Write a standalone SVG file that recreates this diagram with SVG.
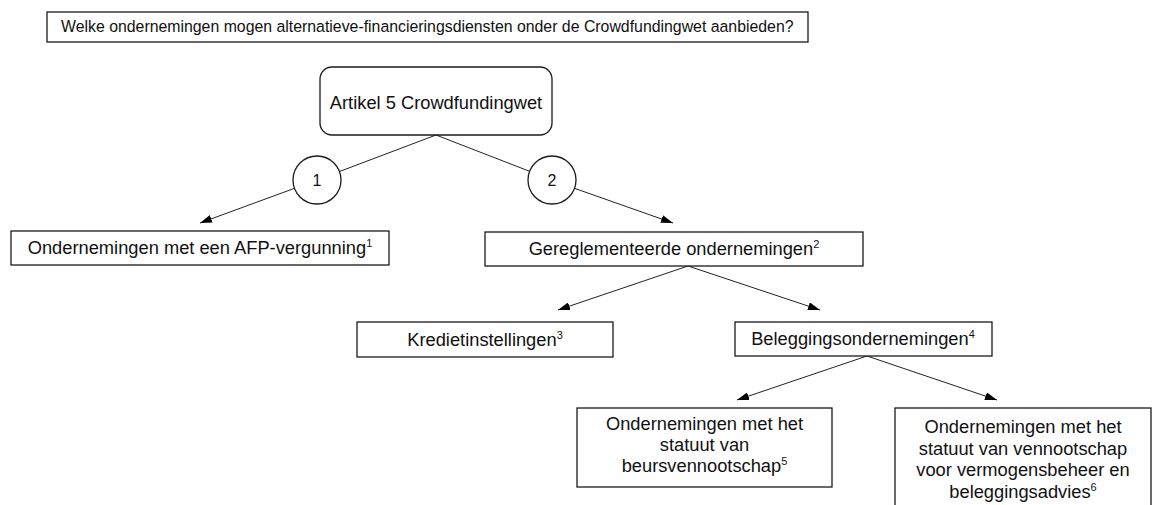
<svg xmlns="http://www.w3.org/2000/svg" width="1157" height="505" viewBox="0 0 1157 505">
  <style>
    .box { fill: #ffffff; stroke: #1a1a1a; stroke-width: 1.3; }
    .lbl { font-family: "Liberation Sans", Arial, sans-serif; font-size: 18.3px; fill: #111111; text-anchor: middle; }
    .sup { font-size: 11px; }
    .link { stroke: #222222; stroke-width: 1; fill: none; }
    .arrow { marker-end: url(#tip); }
  </style>
  <defs>
    <marker id="tip" viewBox="0 0 12 8" refX="12" refY="4" markerWidth="12" markerHeight="8" markerUnits="userSpaceOnUse" orient="auto">
      <path d="M0,0 L12,4 L0,8 z" fill="#000000"/>
    </marker>
  </defs>
  <rect width="1157" height="505" fill="#ffffff"/>

  <!-- connectors -->
  <g id="connectors">
    <line class="link" x1="436" y1="135" x2="317" y2="180"/>
    <line class="link" x1="436" y1="135" x2="552" y2="180"/>
    <line class="link arrow" x1="294" y1="188.5" x2="200" y2="223"/>
    <line class="link arrow" x1="575" y1="188.5" x2="673" y2="223"/>
    <line class="link arrow" x1="688" y1="266" x2="558" y2="310"/>
    <line class="link arrow" x1="688" y1="266" x2="820" y2="310"/>
    <line class="link arrow" x1="867" y1="356" x2="737" y2="400"/>
    <line class="link arrow" x1="867" y1="356" x2="997" y2="400"/>
  </g>

  <g id="question">
    <rect class="box" x="47" y="12" width="761" height="30"/>
    <text class="lbl" x="61" y="32" style="text-anchor:start;font-size:15.85px">Welke ondernemingen mogen alternatieve-financieringsdiensten onder de Crowdfundingwet aanbieden?</text>
  </g>

  <g id="artikel5">
    <rect class="box" x="320" y="67" width="232" height="68" rx="12" ry="12"/>
    <text class="lbl" x="436" y="109">Artikel 5 Crowdfundingwet</text>
  </g>

  <g id="route1">
    <circle class="box" cx="317" cy="180" r="24"/>
    <text class="lbl" x="317" y="186" style="font-size:16px">1</text>
  </g>

  <g id="route2">
    <circle class="box" cx="552" cy="180" r="24"/>
    <text class="lbl" x="552" y="186" style="font-size:16px">2</text>
  </g>

  <g id="afp">
    <rect class="box" x="11" y="231" width="378" height="34"/>
    <text class="lbl" x="200" y="254">Ondernemingen met een AFP-vergunning<tspan class="sup" dy="-7">1</tspan></text>
  </g>

  <g id="gereglementeerd">
    <rect class="box" x="485" y="232" width="378" height="34"/>
    <text class="lbl" x="674" y="255">Gereglementeerde ondernemingen<tspan class="sup" dy="-7">2</tspan></text>
  </g>

  <g id="krediet">
    <rect class="box" x="357" y="322" width="256" height="35"/>
    <text class="lbl" x="485" y="346">Kredietinstellingen<tspan class="sup" dy="-7">3</tspan></text>
  </g>

  <g id="belegging">
    <rect class="box" x="735" y="322" width="257" height="34"/>
    <text class="lbl" x="863" y="345">Beleggingsondernemingen<tspan class="sup" dy="-7">4</tspan></text>
  </g>

  <g id="beurs">
    <rect class="box" x="577" y="408" width="255" height="79"/>
    <text class="lbl" x="704.5" y="430">Ondernemingen met het</text>
    <text class="lbl" x="704.5" y="451">statuut van</text>
    <text class="lbl" x="704.5" y="472">beursvennootschap<tspan class="sup" dy="-7">5</tspan></text>
  </g>

  <g id="vermogensbeheer">
    <rect class="box" x="895" y="408" width="256" height="110"/>
    <text class="lbl" x="1023" y="433">Ondernemingen met het</text>
    <text class="lbl" x="1023" y="454.5">statuut van vennootschap</text>
    <text class="lbl" x="1023" y="476">voor vermogensbeheer en</text>
    <text class="lbl" x="1023" y="497.5">beleggingsadvies<tspan class="sup" dy="-7">6</tspan></text>
  </g>
</svg>
